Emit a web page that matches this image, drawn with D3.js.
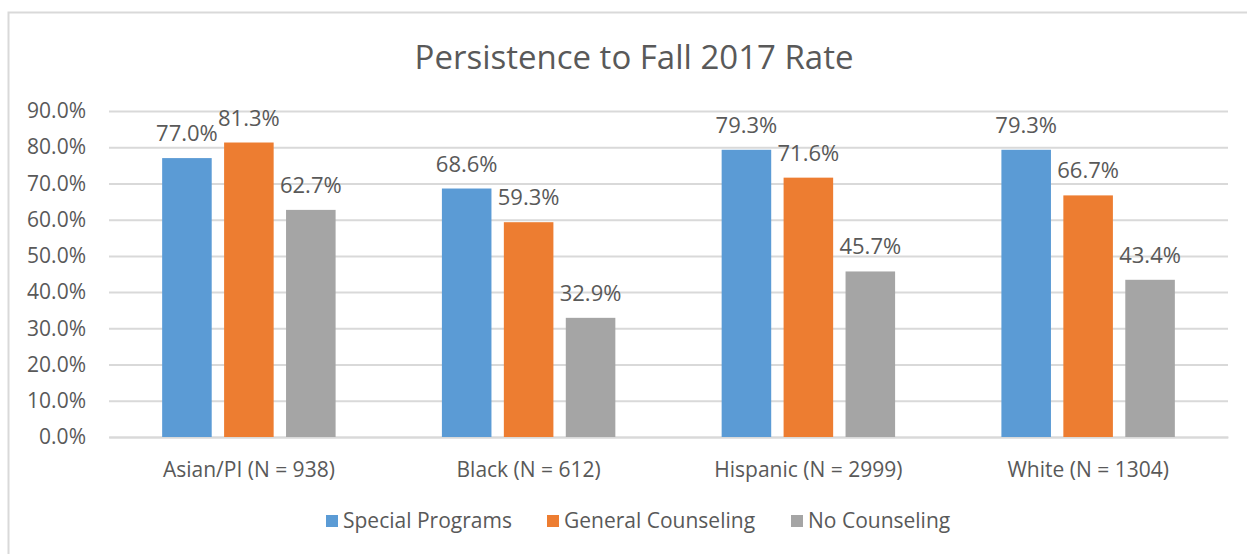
<!DOCTYPE html>
<html>
<head>
<meta charset="utf-8">
<script src="https://cdn.jsdelivr.net/npm/d3@7"></script>
<style>
  body { margin: 0; background: #fff; }
  text { font-family: "Open Sans", sans-serif; fill: #595959; }
</style>
</head>
<body>
<svg id="chart"></svg>
<script>
/* CONSTANTS AND GLOBALS */
const width = 1247,
  height = 554,
  margin = { top: 111, bottom: 117, left: 109, right: 19 };

/* DATA */
const categories = ["Asian/PI (N = 938)", "Black (N = 612)", "Hispanic (N = 2999)", "White (N = 1304)"];
const seriesNames = ["Special Programs", "General Counseling", "No Counseling"];
const specialPrograms = [77.0, 68.6, 79.3, 79.3];
const generalCounseling = [81.3, 59.3, 71.6, 66.7];
const noCounseling = [62.7, 32.9, 45.7, 43.4];
const yTicks = [0, 10, 20, 30, 40, 50, 60, 70, 80, 90];
const colors = ["#5b9bd5", "#ed7d31", "#a5a5a5"];

const seriesValues = [specialPrograms, generalCounseling, noCounseling];

const svg = d3.select("#chart")
  .attr("width", width)
  .attr("height", height);

// chart frame (only top and left edges show in the picture)
svg.append("path")
  .attr("d", `M8.5,${height}V12.5H${width}`)
  .attr("fill", "none")
  .attr("stroke", "#d9d9d9")
  .attr("stroke-width", 2);

// + SCALES
const xScale = d3.scaleBand()
  .domain(categories)
  .range([margin.left, width - margin.right]);

const xInner = d3.scaleBand()
  .domain(seriesNames)
  .range([xScale.bandwidth() * 0.19, xScale.bandwidth() * 0.81])
  .paddingInner(0.2);

const yScale = d3.scaleLinear()
  .domain([0, 90])
  .range([height - margin.bottom, margin.top]);

// + AXES
const yAxis = d3.axisLeft(yScale)
  .tickValues(yTicks)
  .tickSize(-(width - margin.left - margin.right))
  .tickPadding(23)
  .tickFormat(d => d.toFixed(1) + "%");

const yAxisGroup = svg.append("g")
  .attr("class", "yAxis")
  .attr("transform", `translate(${margin.left},0)`)
  .call(yAxis);

yAxisGroup.select(".domain").remove();
yAxisGroup.selectAll("line")
  .attr("stroke", "#d9d9d9")
  .attr("stroke-width", 2);
yAxisGroup.selectAll("text")
  .attr("font-size", 21)
  .style("font-family", "Open Sans, sans-serif")
  .attr("fill", "#595959");

const xAxis = d3.axisBottom(xScale).tickSize(0).tickPadding(25);

const xAxisGroup = svg.append("g")
  .attr("class", "xAxis")
  .attr("transform", `translate(0,${height - margin.bottom})`)
  .call(xAxis);

xAxisGroup.select(".domain")
  .attr("stroke", "#d9d9d9")
  .attr("stroke-width", 2);
xAxisGroup.selectAll("text")
  .attr("font-size", 21)
  .style("font-family", "Open Sans, sans-serif")
  .attr("fill", "#595959");

// + BARS
const groups = svg.selectAll(".group")
  .data(categories)
  .join("g")
  .attr("class", "group")
  .attr("transform", d => `translate(${xScale(d)},0)`);

groups.selectAll("rect")
  .data((d, i) => seriesNames.map((s, j) => ({ series: s, value: seriesValues[j][i], color: colors[j] })))
  .join("rect")
  .attr("x", d => xInner(d.series))
  .attr("y", d => yScale(d.value))
  .attr("width", xInner.bandwidth())
  .attr("height", d => yScale(0) - yScale(d.value))
  .attr("fill", d => d.color);

// data labels
groups.selectAll(".label")
  .data((d, i) => seriesNames.map((s, j) => ({ series: s, value: seriesValues[j][i] })))
  .join("text")
  .attr("class", "label")
  .attr("x", d => xInner(d.series) + xInner.bandwidth() / 2)
  .attr("y", d => yScale(d.value) - 17)
  .attr("text-anchor", "middle")
  .attr("font-size", 22)
  .text(d => d.value.toFixed(1) + "%");

// + TITLE
svg.append("text")
  .attr("x", 634)
  .attr("y", 69)
  .attr("text-anchor", "middle")
  .attr("font-size", 33)
  .text("Persistence to Fall 2017 Rate");

// + LEGEND
const legendX = [326, 547, 791];
const legend = svg.selectAll(".legend")
  .data(seriesNames)
  .join("g")
  .attr("class", "legend")
  .attr("transform", (d, i) => `translate(${legendX[i]},515)`);

legend.append("rect")
  .attr("width", 12)
  .attr("height", 12)
  .attr("fill", (d, i) => colors[i]);

legend.append("text")
  .attr("x", 17)
  .attr("y", 13)
  .attr("font-size", 21)
  .text(d => d);
</script>
</body>
</html>
